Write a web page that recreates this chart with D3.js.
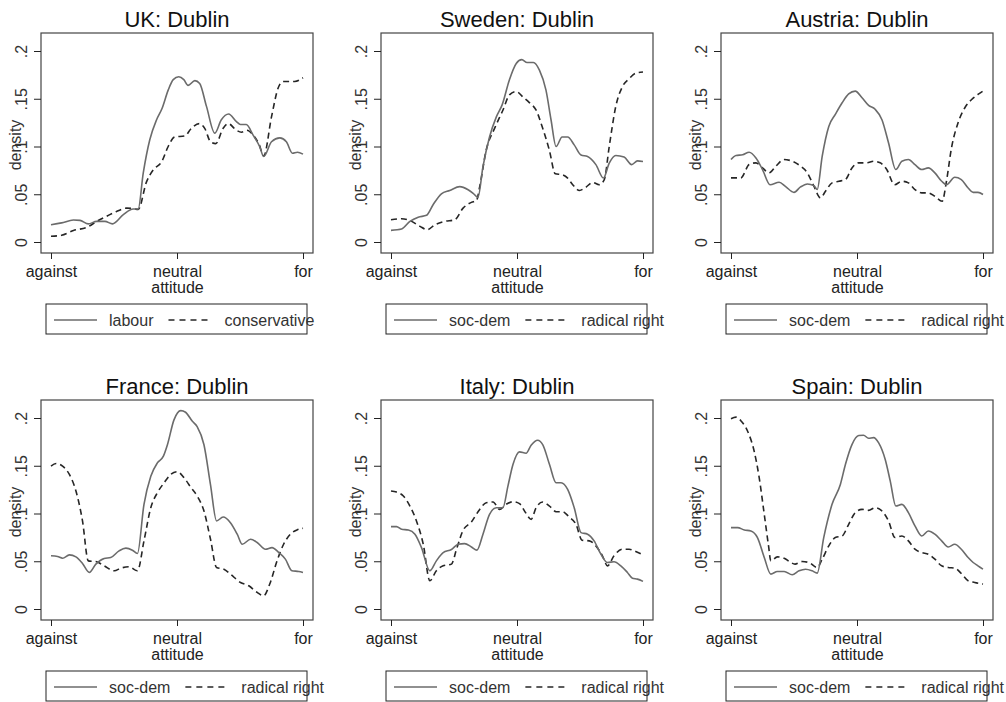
<!DOCTYPE html>
<html>
<head>
<meta charset="utf-8">
<script src="https://cdn.jsdelivr.net/npm/d3@7"></script>
<style>
  body { margin: 0; background: #fff; }
  text { font-family: "Liberation Sans", Arial, sans-serif; }
</style>
</head>
<body>
<svg id="chart" width="1006" height="702"></svg>
<script>
// kernel density curves, x = position on against(0) .. for(1) scale
var ukLabour = [[0,.018],[.042,.020],[.089,.023],[.115,.0226],[.148,.019],[.181,.0216],[.214,.0216],[.244,.019],[.287,.0286],[.326,.0345],[.346,.0345],[.366,.072],[.392,.107],[.419,.128],[.441,.140],[.465,.159],[.485,.170],[.507,.173],[.527,.170],[.544,.164],[.571,.169],[.590,.166],[.617,.142],[.650,.114],[.676,.128],[.705,.134],[.736,.126],[.752,.123],[.775,.123],[.802,.112],[.828,.100],[.844,.0895],[.875,.105],[.908,.109],[.934,.105],[.958,.093],[.978,.094],[1,.092]]
var ukConservative = [[0,.006],[.042,.007],[.089,.012],[.148,.016],[.181,.0216],[.221,.027],[.260,.032],[.300,.0355],[.326,.035],[.346,.034],[.379,.063],[.406,.0756],[.439,.084],[.465,.100],[.491,.110],[.531,.111],[.557,.119],[.588,.124],[.610,.119],[.633,.105],[.654,.103],[.683,.119],[.703,.124],[.736,.117],[.756,.115],[.778,.117],[.802,.112],[.826,.102],[.844,.090],[.875,.131],[.901,.161],[.921,.168],[.945,.168],[.967,.168],[1,.172]]

var seSocDem = [[0,.0122],[.042,.0136],[.075,.0216],[.108,.026],[.141,.0279],[.167,.039],[.200,.0505],[.233,.054],[.273,.058],[.306,.0547],[.326,.051],[.345,.0467],[.365,.079],[.391,.110],[.418,.131],[.441,.1436],[.470,.170],[.497,.187],[.519,.191],[.540,.188],[.565,.188],[.589,.180],[.615,.159],[.635,.128],[.655,.100],[.679,.110],[.701,.110],[.727,.1017],[.754,.091],[.780,.0895],[.813,.081],[.843,.067],[.866,.0826],[.892,.0906],[.925,.0889],[.955,.081],[.978,.085],[1,.0843]]
var seRadRight = [[0,.0233],[.042,.0244],[.082,.0216],[.115,.0164],[.144,.0129],[.174,.018],[.213,.0216],[.253,.0233],[.286,.0355],[.319,.0415],[.339,.0432],[.352,.058],[.378,.0965],[.411,.119],[.444,.138],[.470,.154],[.497,.1575],[.523,.152],[.549,.146],[.576,.138],[.602,.119],[.628,.0965],[.652,.0714],[.679,.0704],[.701,.0669],[.721,.060],[.748,.054],[.774,.0575],[.800,.0624],[.826,.060],[.846,.065],[.866,.100],[.892,.142],[.919,.163],[.945,.171],[.971,.1767],[1,.178]]

var atSocDem = [[0,.0864],[.020,.0906],[.046,.0913],[.072,.094],[.099,.088],[.125,.0759],[.155,.060],[.191,.0626],[.217,.058],[.250,.052],[.276,.0577],[.303,.0608],[.329,.059],[.342,.055],[.362,.0899],[.388,.121],[.414,.1336],[.441,.1458],[.467,.155],[.493,.158],[.520,.151],[.546,.143],[.572,.139],[.599,.128],[.625,.104],[.654,.0759],[.678,.0846],[.704,.0864],[.730,.081],[.757,.0759],[.783,.0776],[.809,.0724],[.836,.0636],[.855,.060],[.888,.0678],[.914,.0654],[.941,.0566],[.961,.052],[.980,.052],[1,.0497]]
var atRadRight = [[0,.0671],[.039,.0671],[.072,.0811],[.099,.0829],[.125,.0776],[.151,.0724],[.178,.0794],[.210,.0864],[.243,.0846],[.276,.0794],[.303,.0724],[.329,.0584],[.355,.0462],[.375,.0531],[.401,.0619],[.428,.0636],[.454,.0654],[.480,.0776],[.507,.0829],[.539,.0829],[.566,.0846],[.592,.0829],[.618,.0759],[.649,.060],[.678,.0636],[.704,.0619],[.730,.0549],[.757,.0514],[.783,.0514],[.809,.0479],[.838,.0427],[.855,.0636],[.875,.0986],[.901,.1248],[.928,.1406],[.954,.149],[.980,.1545],[1,.158]]

var frSocDem = [[0,.0557],[.026,.055],[.046,.0532],[.073,.0567],[.099,.0546],[.125,.0477],[.152,.0383],[.178,.047],[.211,.0529],[.237,.0539],[.270,.0609],[.297,.0637],[.323,.0616],[.343,.0581],[.369,.1096],[.396,.139],[.422,.153],[.446,.160],[.462,.172],[.488,.198],[.515,.2077],[.534,.206],[.561,.1965],[.580,.191],[.607,.172],[.633,.130],[.657,.0922],[.683,.0963],[.712,.0904],[.739,.0783],[.759,.0678],[.792,.073],[.818,.0696],[.851,.0626],[.877,.0643],[.904,.0591],[.930,.0522],[.956,.040],[.983,.0393],[1,.0383]]
var frRadRight = [[0,.1496],[.020,.1523],[.046,.1496],[.073,.1409],[.099,.1235],[.125,.0922],[.148,.0504],[.178,.0497],[.211,.0452],[.251,.040],[.277,.0428],[.310,.0442],[.343,.040],[.369,.0713],[.396,.1061],[.422,.1217],[.449,.1322],[.475,.1409],[.501,.1437],[.528,.1374],[.554,.1277],[.580,.1183],[.607,.1026],[.633,.073],[.657,.0435],[.686,.0417],[.712,.0365],[.752,.0278],[.785,.0243],[.818,.0174],[.844,.0139],[.868,.0261],[.897,.0504],[.923,.0678],[.950,.0783],[.976,.0828],[1,.0845]]

var itSocDem = [[0,.0863],[.022,.0863],[.042,.0835],[.069,.0828],[.095,.0783],[.121,.0643],[.154,.040],[.180,.0504],[.207,.0591],[.240,.0623],[.266,.0678],[.292,.0685],[.319,.065],[.341,.0616],[.365,.0783],[.391,.0991],[.418,.1061],[.444,.1061],[.464,.1287],[.484,.1513],[.510,.1645],[.536,.1631],[.556,.1715],[.582,.1767],[.602,.1722],[.629,.1513],[.655,.1322],[.675,.1322],[.701,.1252],[.727,.1061],[.754,.080],[.780,.0783],[.806,.0713],[.833,.0574],[.859,.0487],[.885,.0494],[.912,.0452],[.938,.0383],[.958,.0323],[.978,.0313],[1,.0289]]
var itRadRight = [[0,.1235],[.022,.1224],[.049,.1183],[.075,.1078],[.101,.0922],[.128,.0678],[.154,.0296],[.180,.040],[.207,.0452],[.240,.047],[.260,.0626],[.286,.0824],[.319,.0911],[.352,.1043],[.378,.1113],[.405,.1120],[.431,.1043],[.457,.1096],[.484,.1123],[.510,.1103],[.534,.1009],[.556,.0939],[.576,.1061],[.602,.1120],[.629,.1078],[.655,.1019],[.681,.1019],[.707,.0963],[.734,.0887],[.758,.072],[.787,.0713],[.813,.0661],[.839,.0557],[.859,.0452],[.885,.0557],[.918,.0626],[.945,.0626],[.971,.0602],[1,.0567]]

var esSocDem = [[0,.0852],[.026,.0852],[.053,.0828],[.079,.0817],[.105,.0748],[.132,.0539],[.158,.0365],[.184,.0393],[.211,.0393],[.243,.0358],[.270,.040],[.296,.0417],[.322,.040],[.342,.0376],[.368,.0748],[.401,.1096],[.434,.1304],[.454,.1513],[.480,.1722],[.507,.1816],[.526,.1819],[.546,.1788],[.566,.1795],[.586,.1739],[.612,.1565],[.632,.1339],[.654,.1078],[.678,.1096],[.704,.1009],[.730,.087],[.757,.0765],[.783,.0817],[.809,.0783],[.836,.0713],[.862,.065],[.888,.0678],[.914,.0626],[.941,.0539],[.961,.0487],[.980,.0452],[1,.0417]]
var esRadRight = [[0,.1993],[.020,.2009],[.039,.1972],[.066,.1861],[.092,.1652],[.112,.1374],[.132,.0991],[.149,.0661],[.158,.0504],[.184,.0546],[.211,.0532],[.237,.0487],[.254,.0470],[.283,.0497],[.309,.0487],[.342,.0435],[.362,.0522],[.388,.0661],[.414,.0748],[.441,.0765],[.467,.0887],[.493,.1009],[.520,.1043],[.546,.1033],[.572,.1061],[.599,.1026],[.625,.0922],[.651,.0748],[.678,.0765],[.704,.0713],[.730,.0626],[.757,.0591],[.783,.0574],[.809,.0522],[.836,.0452],[.862,.0435],[.888,.0428],[.914,.0372],[.941,.0296],[.967,.0278],[1,.0261]]

var yTicks = [0, .05, .1, .15, .2]
var xTicks = [0, .5, 1]
var xTickLabels = ["against", "neutral|attitude", "for"]

var panels = [
  {title: "UK: Dublin", a: ukLabour, b: ukConservative, la: "labour", lb: "conservative"},
  {title: "Sweden: Dublin", a: seSocDem, b: seRadRight, la: "soc-dem", lb: "radical right"},
  {title: "Austria: Dublin", a: atSocDem, b: atRadRight, la: "soc-dem", lb: "radical right"},
  {title: "France: Dublin", a: frSocDem, b: frRadRight, la: "soc-dem", lb: "radical right"},
  {title: "Italy: Dublin", a: itSocDem, b: itRadRight, la: "soc-dem", lb: "radical right"},
  {title: "Spain: Dublin", a: esSocDem, b: esRadRight, la: "soc-dem", lb: "radical right"}
]

var solidColor = "#6b6b6b"
var dashColor = "#262626"

var svg = d3.select("#chart")

var x = d3.scaleLinear().domain([0, 1]).range([51, 303])
var y = d3.scaleLinear().domain([0, .2]).range([242, 51])

var line = d3.line()
  .x(function(d) { return x(d[0]) })
  .y(function(d) { return y(d[1]) })
  .curve(d3.curveMonotoneX)

panels.forEach(function(p, i) {
  var g = svg.append("g")
    .attr("transform", "translate(" + (i % 3) * 340 + "," + Math.floor(i / 3) * 367 + ")")

  // title
  g.append("text")
    .attr("x", 177).attr("y", 27)
    .attr("text-anchor", "middle")
    .attr("font-size", 22)
    .attr("fill", "#111")
    .text(p.title)

  // plot region outline
  g.append("rect")
    .attr("x", 41).attr("y", 33)
    .attr("width", 272).attr("height", 220)
    .attr("fill", "none")
    .attr("stroke", "#444")
    .attr("stroke-width", 1.2)

  // y axis
  var ya = g.append("g")
    .attr("transform", "translate(41,0)")
    .call(d3.axisLeft(y).tickValues(yTicks).tickSize(7).tickSizeOuter(0)
      .tickFormat(function(d) { return d === 0 ? "0" : String(d).replace(/^0/, "") }))
  ya.select(".domain").remove()
  ya.selectAll(".tick line").attr("stroke", "#222")
  ya.selectAll(".tick text")
    .attr("transform", "rotate(-90)")
    .attr("x", 0).attr("y", -14).attr("dy", null)
    .attr("text-anchor", "middle")
    .attr("font-size", 16)
    .attr("font-family", null)
    .attr("fill", "#333")

  g.append("text")
    .attr("transform", "translate(21,145) rotate(-90)")
    .attr("text-anchor", "middle")
    .attr("font-size", 16)
    .attr("fill", "#333")
    .text("density")

  // x axis
  var xa = g.append("g")
    .attr("transform", "translate(0,253)")
    .call(d3.axisBottom(x).tickValues(xTicks).tickSize(6).tickSizeOuter(0)
      .tickFormat(function(d, k) { return xTickLabels[k] }))
  xa.select(".domain").remove()
  xa.selectAll(".tick line").attr("stroke", "#222")
  xa.selectAll(".tick text")
    .attr("font-size", 16)
    .attr("font-family", null)
    .attr("fill", "#222")
    .attr("y", 13)
    .each(function() {
      var t = d3.select(this)
      var parts = t.text().split("|")
      t.text(null)
      parts.forEach(function(s, j) {
        t.append("tspan").attr("x", 0).attr("dy", j === 0 ? "0.71em" : "1em").text(s)
      })
    })

  // density curves
  g.append("path")
    .datum(p.b)
    .attr("d", line)
    .attr("fill", "none")
    .attr("stroke", dashColor)
    .attr("stroke-width", 1.6)
    .attr("stroke-dasharray", "6,4")

  g.append("path")
    .datum(p.a)
    .attr("d", line)
    .attr("fill", "none")
    .attr("stroke", solidColor)
    .attr("stroke-width", 1.6)

  // legend
  var lg = g.append("g")
  lg.append("rect")
    .attr("x", 46).attr("y", 304)
    .attr("width", 261).attr("height", 30)
    .attr("fill", "none")
    .attr("stroke", "#222")
    .attr("stroke-width", 1)
  lg.append("line")
    .attr("x1", 54).attr("x2", 97).attr("y1", 320).attr("y2", 320)
    .attr("stroke", solidColor).attr("stroke-width", 1.6)
  var t1 = lg.append("text")
    .attr("x", 109).attr("y", 325.5)
    .attr("font-size", 16).attr("fill", "#333")
    .text(p.la)
  var k2 = 109 + t1.node().getComputedTextLength() + 15
  lg.append("line")
    .attr("x1", k2).attr("x2", k2 + 40).attr("y1", 320).attr("y2", 320)
    .attr("stroke", dashColor).attr("stroke-width", 1.6)
    .attr("stroke-dasharray", "6,5")
  lg.append("text")
    .attr("x", k2 + 56).attr("y", 325.5)
    .attr("font-size", 16).attr("fill", "#333")
    .text(p.lb)
})
</script>
</body>
</html>
